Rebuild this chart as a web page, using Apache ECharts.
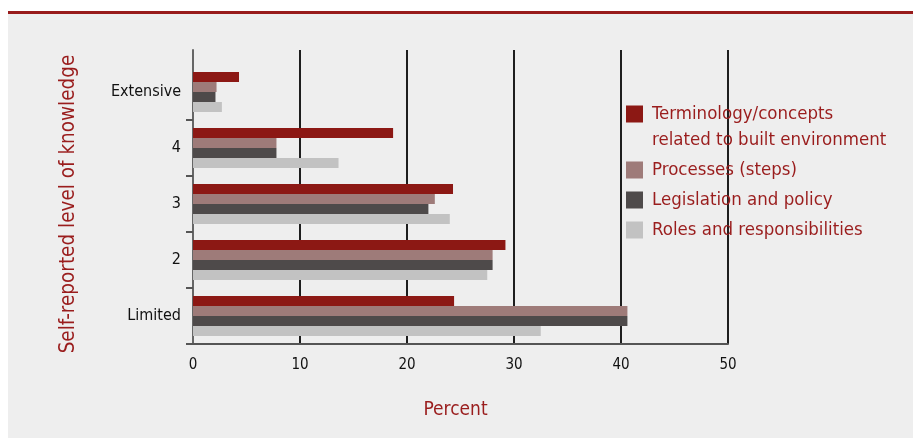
<!DOCTYPE html>
<html>
<head>
<meta charset="utf-8">
<script src="https://cdn.jsdelivr.net/npm/echarts@6/dist/echarts.min.js"></script>
<style>
  html, body { margin: 0; padding: 0; background: #ffffff; }
  #panel { position: absolute; left: 8px; top: 11px; width: 905px; height: 427px;
           background: #eeeeee; border-top: 3px solid #981b1b; box-sizing: border-box; }
  #chart { position: absolute; left: 0; top: 0; width: 913px; height: 438px; }
</style>
</head>
<body>
<div id="panel"></div>
<div id="chart"></div>
<script>
// Knowledge levels, top to bottom
const categories = ['Extensive', '4', '3', '2', 'Limited'];
const seriesNames = [
  'Terminology/concepts\nrelated to built environment',
  'Processes (steps)',
  'Legislation and policy',
  'Roles and responsibilities'
];
const terminology = [4.3, 18.7, 24.3, 29.2, 24.4];
const processes   = [2.2, 7.8, 22.6, 28.0, 40.6];
const legislation = [2.1, 7.8, 22.0, 28.0, 40.6];
const roles       = [2.7, 13.6, 24.0, 27.5, 32.5];
const xTicks = [0, 10, 20, 30, 40, 50];

const colors = ['#8c1814', '#9e7b79', '#4e4a4a', '#c2c2c2'];
const values = [terminology, processes, legislation, roles];
const FONT = '"Liberation Sans Narrow", "DejaVu Sans Condensed", sans-serif';
const RED_TEXT = '#9a1d1d';

const chart = echarts.init(document.getElementById('chart'));

chart.setOption({
  backgroundColor: 'transparent',
  animation: false,
  textStyle: { fontFamily: FONT },
  grid: [
    // bar grid: 5 bands of whole pixels so adjacent bars meet without seams
    { left: 193, right: 185, top: 64, bottom: 94 },
    // frame grid: gridlines and axis lines reach a little above the bars
    { left: 193, right: 185, top: 50, bottom: 94 }
  ],
  legend: {
    orient: 'vertical',
    left: 626,
    top: 75,
    padding: 0,
    itemWidth: 17,
    itemHeight: 17,
    itemGap: 4,
    icon: 'rect',
    // a blank leading line keeps the swatch level with the first line of a wrapped name
    formatter: name => name.indexOf('\n') >= 0 ? ' \n' + name : name,
    textStyle: {
      fontFamily: FONT, fontSize: 18.5, color: RED_TEXT, lineHeight: 26,
      padding: [0, 0, 0, 4]
    },
    data: seriesNames
  },
  xAxis: [
    {
      gridIndex: 0, type: 'value', min: 0, max: 50, interval: 10,
      axisLine: { show: false }, axisTick: { show: false },
      axisLabel: { show: false }, splitLine: { show: false }
    },
    {
      gridIndex: 1, type: 'value', min: 0, max: 50, interval: 10,
      axisLine: { show: true, lineStyle: { color: '#555555', width: 2 } },
      axisTick: { show: false },
      splitLine: { show: true, lineStyle: { color: '#1e1e1e', width: 2 } },
      axisLabel: {
        color: '#111111', fontSize: 15, margin: 14, fontFamily: FONT,
        formatter: v => xTicks.includes(v) ? String(v) : ''
      },
      name: 'Percent', nameLocation: 'middle', nameGap: 57,
      nameTextStyle: { color: RED_TEXT, fontSize: 19, fontFamily: FONT, padding: [0, 10, 0, 0] }
    }
  ],
  yAxis: [
    {
      gridIndex: 0, type: 'category', data: categories, inverse: true,
      axisLine: { show: false },
      axisTick: {
        show: true, length: 7, inside: false,
        interval: (i) => i !== 0,
        lineStyle: { color: '#555555', width: 2 }
      },
      axisLabel: { color: '#111111', fontSize: 16, margin: 12, fontFamily: FONT },
      name: 'Self-reported level of knowledge', nameLocation: 'middle',
      nameRotate: 90, nameGap: 114,
      nameTextStyle: { color: RED_TEXT, fontSize: 20.5, fontFamily: FONT }
    },
    {
      gridIndex: 1, type: 'value', min: 0, max: 1,
      axisLine: { show: true, lineStyle: { color: '#666666', width: 2 } },
      axisTick: { show: false }, axisLabel: { show: false },
      splitLine: { show: false }
    }
  ],
  series: seriesNames.map((name, i) => ({
    name,
    type: 'bar',
    xAxisIndex: 0,
    yAxisIndex: 0,
    z: 5,
    data: values[i],
    barGap: '0%',
    barWidth: 10,
    itemStyle: { color: colors[i] }
  }))
});
</script>
</body>
</html>
